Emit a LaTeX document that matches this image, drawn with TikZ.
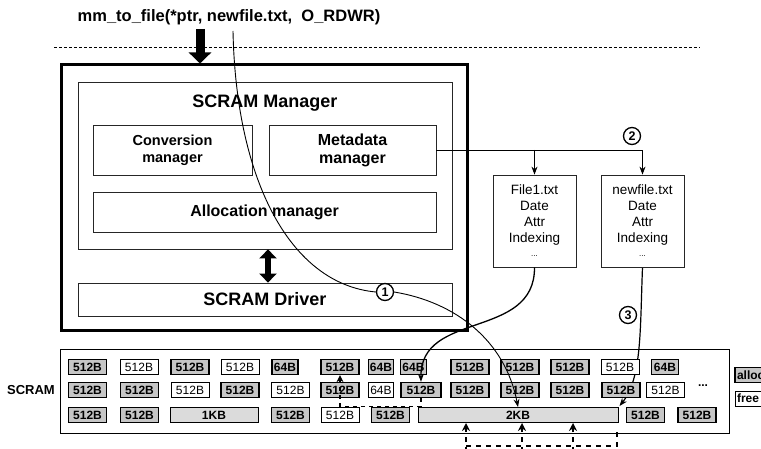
\documentclass[tikz,border=0pt]{standalone}
\usepackage{fontspec}
\setmainfont{Liberation Sans}
\usetikzlibrary{arrows.meta}
\pgfdeclarelayer{bg}
\pgfsetlayers{bg,main}
\begin{document}
\begin{tikzpicture}[x=1pt,y=-1pt,
  bx/.style={draw=black!85,line width=0.8pt,inner sep=0pt},
  gb/.style={draw,line width=1.4pt,fill=gray!45,font=\bfseries\fontsize{12}{12}\selectfont,minimum height=15pt,inner sep=0pt,minimum width=38pt},
  wb/.style={draw,line width=0.9pt,fill=white,font=\fontsize{12}{12}\selectfont,minimum height=15pt,inner sep=0pt,minimum width=38pt},
  lb/.style={draw,line width=1pt,fill=gray!28,font=\bfseries\fontsize{12}{12}\selectfont,minimum height=15pt,inner sep=0pt},
  num/.style={circle,draw,line width=1.3pt,fill=white,inner sep=0pt,minimum size=17pt,font=\bfseries\fontsize{12.5}{12.5}\selectfont},
  arr/.style={-{Stealth[length=8pt,width=6pt]},line width=0.9pt},
  dsh/.style={line width=1.8pt,dash pattern=on 5pt off 5pt},
  dshs/.style={line width=1.3pt,dash pattern=on 4pt off 4pt},
  filebox/.style={bx,minimum width=83pt,minimum height=92pt,align=center,font=\fontsize{13.5}{16}\selectfont},
]
\useasboundingbox (0,0) rectangle (761,449);
\clip (0,0) rectangle (761,449);

% title and separator
\node[font=\bfseries\fontsize{16.5}{16.5}\selectfont] (title) at (229,17) {mm\_to\_file(*ptr, newfile.txt, \ O\_RDWR)};
\coordinate (sepl) at (54,47);
\coordinate (sepr) at (700,47);
\draw[line width=0.9pt,dash pattern=on 3pt off 2pt] (sepl) -- (sepr);

% outer box and inner boxes
\node[draw,line width=3pt,minimum width=406pt,minimum height=266pt,inner sep=0pt] (outer) at (264,198) {};
\node[bx,minimum width=374pt,minimum height=167pt] (mgr) at (265,165.5) {};
\node[font=\bfseries\fontsize{18}{18}\selectfont] (mgrl) at (265,103) {SCRAM Manager};
\node[bx,minimum width=159pt,minimum height=50pt,align=center,font=\bfseries\fontsize{14.5}{17}\selectfont] (conv) at (172.5,150) {Conversion\\manager};
\node[bx,minimum width=167pt,minimum height=50pt,align=center,font=\bfseries\fontsize{16}{18}\selectfont] (meta) at (352.5,150) {Metadata\\manager};
\node[bx,minimum width=343pt,minimum height=40pt,font=\bfseries\fontsize{16}{16}\selectfont] (alloc) at (264.5,212) {Allocation manager};
\node[bx,minimum width=374pt,minimum height=33pt,font=\bfseries\fontsize{18}{18}\selectfont] (drv) at (265,299.5) {SCRAM Driver};

% big arrows
\coordinate (ta) at (200,29);
\draw[line width=9pt,-{Triangle[length=11pt,width=22pt]}] (ta) -- (ta |- outer.north);
\draw[line width=6pt,{Triangle[length=9pt,width=17pt]}-{Triangle[length=9pt,width=17pt]}] ([xshift=3pt]mgr.south) -- ([xshift=3pt]drv.north);

% file boxes
\node[filebox] (f1) at (534.5,221) {File1.txt\\Date\\Attr\\Indexing\\[-2pt]{\fontsize{8}{8}\selectfont ...}};
\node[filebox] (nf) at (642.5,221) {newfile.txt\\Date\\Attr\\Indexing\\[-2pt]{\fontsize{8}{8}\selectfont ...}};
\draw[arr] (meta.east) -| (nf.north);
\draw[arr] (meta.east -| f1.north) -- (f1.north);
\node[num] (n2) at (632,136) {2};

% SCRAM grid
\node[font=\bfseries\fontsize{13}{14}\selectfont] (scl) at (31,390) {SCRAM};
\node[draw,line width=0.9pt,minimum width=669pt,minimum height=84pt,inner sep=0pt] (grid) at (394.5,391) {};

% row 1
\node[gb] (r1a) at (87.5,367) {512B};
\node[wb] (r1b) at (139,367) {512B};
\node[gb] (r1c) at (190,367) {512B};
\node[wb] (r1d) at (240,367) {512B};
\node[gb,minimum width=26pt] (r1e) at (285,367) {64B};
\node[gb] (r1f) at (340,367) {512B};
\node[gb,minimum width=25pt] (r1g) at (381,367) {64B};
\node[gb,minimum width=26pt] (r1h) at (413.5,367) {64B};
\node[gb] (r1i) at (470,367) {512B};
\node[gb] (r1j) at (520,367) {512B};
\node[gb] (r1k) at (570,367) {512B};
\node[wb] (r1l) at (620,367) {512B};
\node[gb,minimum width=27pt] (r1m) at (665,367) {64B};

% row 2
\node[gb] (r2a) at (87.5,390) {512B};
\node[gb] (r2b) at (139.5,390) {512B};
\node[wb] (r2c) at (190,390) {512B};
\node[gb] (r2d) at (240,390) {512B};
\node[wb] (r2e) at (290.5,390) {512B};
\node[gb] (r2f) at (340,390) {512B};
\node[wb,minimum width=25pt] (r2g) at (381,390) {64B};
\node[gb,minimum width=40pt] (r2h) at (421,390) {512B};
\node[gb] (r2i) at (470,390) {512B};
\node[gb] (r2j) at (520,390) {512B};
\node[gb] (r2k) at (570,390) {512B};
\node[gb] (r2l) at (621,390) {512B};
\node[wb] (r2m) at (665.5,390) {512B};
\node[font=\bfseries\fontsize{12}{12}\selectfont] (dots) at (703,386) {...};

% row 3
\node[gb] (r3a) at (87.5,415) {512B};
\node[gb] (r3b) at (139.5,415) {512B};
\node[lb,minimum width=88pt] (kb1) at (214,415) {1KB};
\node[gb] (r3e) at (290.5,415) {512B};
\node[wb] (r3f) at (340,415) {512B};
\node[gb] (r3g) at (390.5,415) {512B};
\node[lb,minimum width=200pt] (kb2) at (518,415) {2KB};
\node[gb] (r3i) at (645.5,415) {512B};
\node[gb] (r3j) at (697,415) {512B};

% curve 3 (behind the grid boxes)
\begin{pgfonlayer}{bg}
\draw[arr,line width=1.2pt] (nf.south) .. controls (640,330) and (642,378) .. ([xshift=1pt,yshift=1pt]kb2.north east);
\end{pgfonlayer}
\node[num] (n3) at (628,315) {3};

% legend (cut by the right edge, as in the reference)
\node[gb,minimum width=42pt,text width=38pt,align=left] (lalloc) at (756,375) {alloc};
\node[wb,minimum width=42pt,text width=38pt,align=left,font=\bfseries\fontsize{12}{12}\selectfont] (lfree) at (756,398.5) {free};

% dashed moves inside the grid
\draw[dshs,-{Stealth[length=7pt,width=7pt]}] (r2h.south) -- ++(0,8) -| (r1f.south);

% dashed arrows below the 2KB block
\coordinate (d1) at (466,452);
\coordinate (d2) at (522,452);
\coordinate (d3) at (573,452);
\coordinate (d4) at (617,446);
\draw[dsh,-{Stealth[length=8pt,width=8pt]}] (d1) -- (d1 |- kb2.south);
\draw[dsh,-{Stealth[length=8pt,width=8pt]}] (d2) -- (d2 |- kb2.south);
\draw[dsh,-{Stealth[length=8pt,width=8pt]}] (d3) -- (d3 |- kb2.south);
\draw[dsh] (d1 |- d4) -- (d4) -- ++(0,-18);

% curve 1
\coordinate (c1s) at (233,31);
\node[num] (n1) at (385,292) {1};
\draw[line width=0.9pt] (c1s) .. controls (236,180) and (290,284) .. (n1.west);
\draw[arr] (n1.east) .. controls (455,302) and (505,340) .. (kb2.north);

% curve 2
\draw[arr,line width=1.3pt] (f1.south) .. controls (535,340) and (420,310) .. (r2h.north);
\end{tikzpicture}
\end{document}
